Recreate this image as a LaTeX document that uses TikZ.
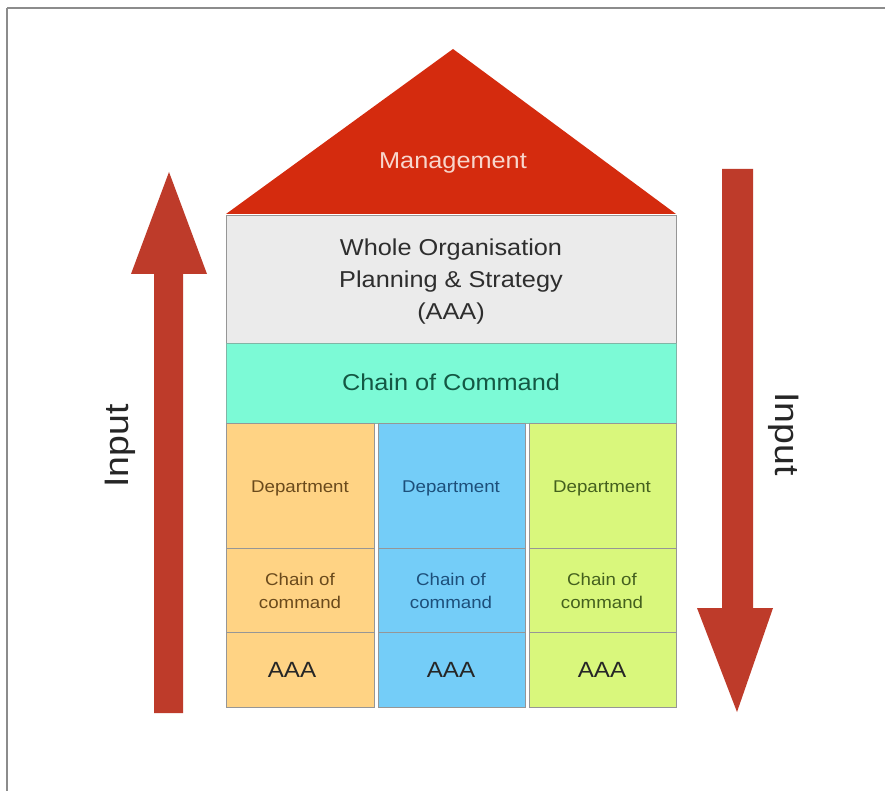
\documentclass[tikz,border=0pt]{standalone}
\usepackage{fontspec}
\setmainfont{Liberation Sans}[FakeStretch=1.1]
\definecolor{roofred}{RGB}{212,43,14}
\definecolor{mgmttext}{RGB}{248,214,204}
\definecolor{grayfill}{RGB}{235,235,235}
\definecolor{cellline}{RGB}{150,150,150}
\definecolor{tealfill}{RGB}{124,250,214}
\definecolor{orangefill}{RGB}{255,211,132}
\definecolor{bluefill}{RGB}{116,205,248}
\definecolor{greenfill}{RGB}{217,247,124}
\definecolor{arrowred}{RGB}{190,59,42}
\definecolor{graytext}{RGB}{46,46,46}
\definecolor{tealtext}{RGB}{20,88,68}
\definecolor{orangetext}{RGB}{106,74,28}
\definecolor{bluetext}{RGB}{29,79,122}
\definecolor{greentext}{RGB}{68,96,30}
\definecolor{framegray}{RGB}{140,140,140}
\tikzset{
  cell/.style={draw=cellline, line width=1pt, rectangle, inner sep=0pt, anchor=north west},
  bigtxt/.style={font=\fontsize{23}{32}\selectfont, align=center, inner sep=0pt},
  smalltxt/.style={font=\fontsize{17}{23.5}\selectfont, align=center, inner sep=0pt},
  aaatxt/.style={font=\fontsize{22}{26}\selectfont, inner sep=0pt},
  inputtxt/.style={font=\fontsize{34}{40}\selectfont, inner sep=0pt, text=black!85},
}
\begin{document}
\begin{tikzpicture}[x=1pt,y=-1pt]
\useasboundingbox (0,0) rectangle (885,791);
\fill[white] (0,0) rectangle (885,791);
% frame
\draw[framegray, line width=2pt] (7,8) -- (885,8);
\draw[framegray, line width=1.5pt] (7,8) -- (7,791);

% roof
\fill[roofred] (226,214) -- (453,49) -- (676,214) -- cycle;
\node[bigtxt, text=mgmttext] (mgmt) at (453,163) {Management};

% whole organisation
\node[cell, fill=grayfill, minimum width=450pt, minimum height=128pt] (whole) at (226,215) {};
\node[bigtxt, text=graytext] (wholetxt) at (451,282) {Whole Organisation\\Planning \& Strategy\\(AAA)};

% chain of command
\node[cell, fill=tealfill, draw=tealfill!60!black!70, minimum width=450pt, minimum height=80pt] (chain) at (226,343) {};
\node[bigtxt, text=tealtext] (chaintxt) at (451,382) {Chain of Command};

% columns
\node[cell, fill=orangefill, minimum width=148pt, minimum height=125pt] (d1) at (226,423) {};
\node[cell, fill=orangefill, minimum width=148pt, minimum height=84pt] (c1) at (226,548) {};
\node[cell, fill=orangefill, minimum width=148pt, minimum height=75pt] (a1) at (226,632) {};

\node[cell, fill=bluefill, minimum width=147pt, minimum height=125pt] (d2) at (378,423) {};
\node[cell, fill=bluefill, minimum width=147pt, minimum height=84pt] (c2) at (378,548) {};
\node[cell, fill=bluefill, minimum width=147pt, minimum height=75pt] (a2) at (378,632) {};

\node[cell, fill=greenfill, minimum width=147pt, minimum height=125pt] (d3) at (529,423) {};
\node[cell, fill=greenfill, minimum width=147pt, minimum height=84pt] (c3) at (529,548) {};
\node[cell, fill=greenfill, minimum width=147pt, minimum height=75pt] (a3) at (529,632) {};

\node[smalltxt, text=orangetext] (d1t) at (300,488) {Department};
\node[smalltxt, text=bluetext] (d2t) at (451,488) {Department};
\node[smalltxt, text=greentext] (d3t) at (602,488) {Department};

\node[smalltxt, text=orangetext] (c1t) at (300,591) {Chain of\\command};
\node[smalltxt, text=bluetext] (c2t) at (451,591) {Chain of\\command};
\node[smalltxt, text=greentext] (c3t) at (602,591) {Chain of\\command};

\node[aaatxt, text=black!85] (a1t) at (292,670) {AAA};
\node[aaatxt, text=black!85] (a2t) at (451,670) {AAA};
\node[aaatxt, text=black!85] (a3t) at (602,670) {AAA};

% arrows
\fill[arrowred] (154,713) -- (154,274) -- (131,274) -- (169,172) -- (207,274) -- (183,274) -- (183,713) -- cycle;
\fill[arrowred] (722,169) -- (753,169) -- (753,608) -- (773,608) -- (737,712) -- (697,608) -- (722,608) -- cycle;

\node[inputtxt, rotate=90] (inL) at (120,446) {Input};
\node[inputtxt, rotate=-90] (inR) at (784,434) {Input};
\end{tikzpicture}
\end{document}
